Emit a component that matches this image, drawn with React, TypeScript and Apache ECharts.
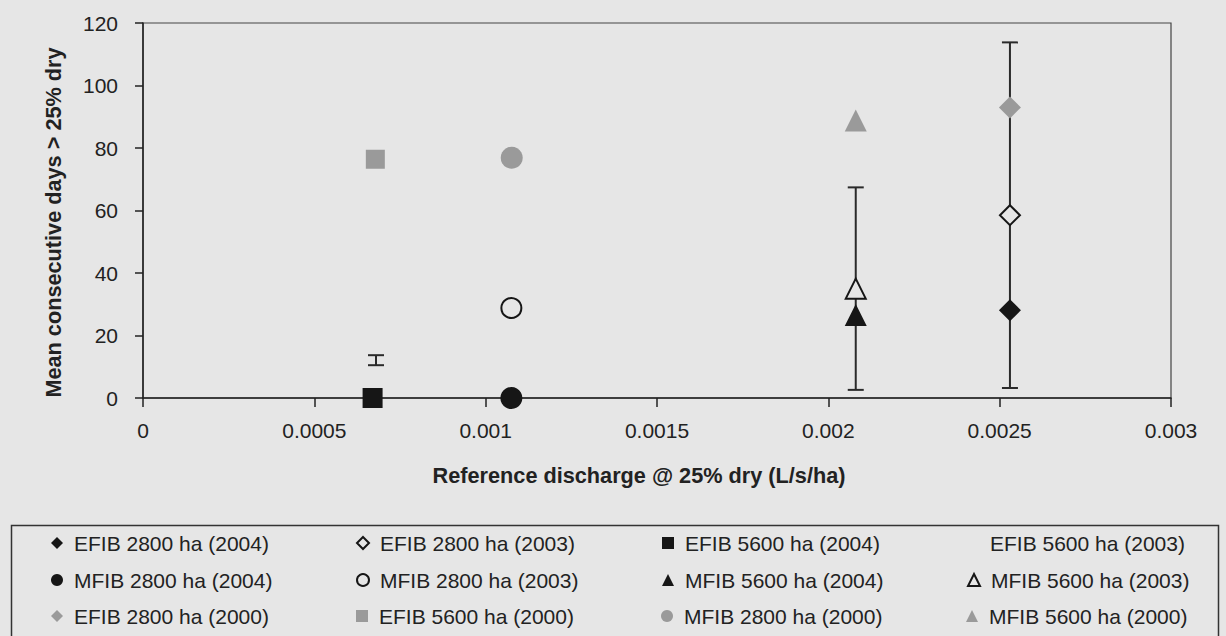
import React, { useEffect, useRef } from "react";
import * as echarts from "echarts";

// ---- data (x: L/s/ha, y: mean consecutive days) ----
const EFIB_2800_2004: [number, number][] = [[0.00253, 28.1]];
const EFIB_2800_2003: [number, number][] = [[0.00253, 58.5]];
const EFIB_5600_2004: [number, number][] = [[0.00067, 0]];
const EFIB_5600_2003: [number, number][] = [[0.00068, 12.1]];
const MFIB_2800_2004: [number, number][] = [[0.001075, 0]];
const MFIB_2800_2003: [number, number][] = [[0.001075, 28.8]];
const MFIB_5600_2004: [number, number][] = [[0.00208, 26.6]];
const MFIB_5600_2003: [number, number][] = [[0.00208, 35.0]];
const EFIB_2800_2000: [number, number][] = [[0.00253, 93.0]];
const EFIB_5600_2000: [number, number][] = [[0.000678, 76.4]];
const MFIB_2800_2000: [number, number][] = [[0.001076, 76.9]];
const MFIB_5600_2000: [number, number][] = [[0.00208, 88.8]];

// symmetric error bar half-widths for the 2003 series
const EFIB_2800_2003_ERR = [55.3];
const EFIB_5600_2003_ERR = [1.6];
const MFIB_5600_2003_ERR = [32.4];

const X_MIN = 0;
const X_MAX = 0.003;
const X_STEP = 0.0005;
const Y_MIN = 0;
const Y_MAX = 120;
const Y_STEP = 20;

const X_NAME = "Reference discharge @ 25% dry (L/s/ha)";
const Y_NAME = "Mean consecutive days > 25% dry";

const BG = "#e6e6e6";
const BLACK = "#161616";
const GREY = "#9a9a9a";
const FONT = "'Liberation Sans', Arial, Helvetica, sans-serif";

type S = {
  name: string;
  data: [number, number][];
  symbol: string;
  size: number;
  fill: string;
  border?: string;
};

const SERIES: S[] = [
  { name: "EFIB 2800 ha (2004)", data: EFIB_2800_2004, symbol: "diamond", size: 22, fill: BLACK },
  { name: "EFIB 2800 ha (2003)", data: EFIB_2800_2003, symbol: "diamond", size: 20, fill: BG, border: BLACK },
  { name: "EFIB 5600 ha (2004)", data: EFIB_5600_2004, symbol: "rect", size: 20, fill: BLACK },
  { name: "EFIB 5600 ha (2003)", data: EFIB_5600_2003, symbol: "none", size: 0, fill: BLACK },
  { name: "MFIB 2800 ha (2004)", data: MFIB_2800_2004, symbol: "circle", size: 22, fill: BLACK },
  { name: "MFIB 2800 ha (2003)", data: MFIB_2800_2003, symbol: "circle", size: 20, fill: BG, border: BLACK },
  { name: "MFIB 5600 ha (2004)", data: MFIB_5600_2004, symbol: "triangle", size: 22, fill: BLACK },
  { name: "MFIB 5600 ha (2003)", data: MFIB_5600_2003, symbol: "triangle", size: 20, fill: BG, border: BLACK },
  { name: "EFIB 2800 ha (2000)", data: EFIB_2800_2000, symbol: "diamond", size: 22, fill: GREY },
  { name: "EFIB 5600 ha (2000)", data: EFIB_5600_2000, symbol: "rect", size: 19, fill: GREY },
  { name: "MFIB 2800 ha (2000)", data: MFIB_2800_2000, symbol: "circle", size: 22, fill: GREY },
  { name: "MFIB 5600 ha (2000)", data: MFIB_5600_2000, symbol: "triangle", size: 22, fill: GREY },
];

const ERRORS: { data: [number, number][]; err: number[] }[] = [
  { data: EFIB_2800_2003, err: EFIB_2800_2003_ERR },
  { data: EFIB_5600_2003, err: EFIB_5600_2003_ERR },
  { data: MFIB_5600_2003, err: MFIB_5600_2003_ERR },
];

const LEGEND_ROWS_TOP = [531, 568, 604];

export default function App() {
  const ref = useRef<HTMLDivElement>(null);

  useEffect(() => {
    if (!ref.current) return;
    const chart = echarts.init(ref.current, undefined, { renderer: "svg" });

    const errorData: number[][] = [];
    ERRORS.forEach((e) =>
      e.data.forEach((p, i) => errorData.push([p[0], p[1] - e.err[i], p[1] + e.err[i]]))
    );

    const scatterSeries = SERIES.map((s) => ({
      type: "scatter",
      name: s.name,
      data: s.data,
      symbol: s.symbol,
      symbolSize: s.size,
      z: 3,
      itemStyle: {
        color: s.fill,
        borderColor: s.border || s.fill,
        borderWidth: s.border ? 2 : 0,
        opacity: 1,
      },
      emphasis: { disabled: true },
    }));

    const legends = [0, 1, 2].map((row) => ({
      show: true,
      orient: "horizontal",
      left: 51,
      top: LEGEND_ROWS_TOP[row],
      width: 1160,
      padding: 0,
      itemGap: 82,
      itemWidth: 12,
      itemHeight: 12,
      selectedMode: false,
      textStyle: {
        fontFamily: FONT,
        fontSize: 21,
        color: "#222",
        width: 200,
        lineHeight: 24,
        padding: [0, 0, 0, 6],
      },
      data: SERIES.slice(row * 4, row * 4 + 4).map((s) => ({
        name: s.name,
        icon: s.symbol,
      })),
    }));

    chart.setOption({
      animation: false,
      backgroundColor: BG,
      textStyle: { fontFamily: FONT },
      grid: {
        left: 143,
        right: 55,
        top: 23,
        bottom: 238,
        show: true,
        borderColor: "#444",
        borderWidth: 1.2,
        backgroundColor: "transparent",
      },
      legend: legends,
      graphic: [
        {
          type: "rect",
          left: 9,
          top: 523,
          shape: { width: 1207, height: 130 },
          style: { fill: "none", stroke: "#333", lineWidth: 1.5 },
          silent: true,
        },
      ],
      xAxis: {
        type: "value",
        min: X_MIN,
        max: X_MAX,
        interval: X_STEP,
        name: X_NAME,
        nameLocation: "middle",
        nameGap: 66,
        nameTextStyle: {
          fontFamily: FONT,
          fontSize: 21.7,
          fontWeight: "bold",
          color: "#222",
          padding: [0, 36, 0, 0],
        },
        axisLine: { show: true, onZero: false, lineStyle: { color: "#222", width: 1.5 } },
        axisTick: { show: true, inside: false, length: 9, lineStyle: { color: "#222", width: 1.5 } },
        axisLabel: {
          margin: 22,
          fontFamily: FONT,
          fontSize: 21,
          color: "#222",
          formatter: (v: number) => String(Number(v.toFixed(5))),
        },
        splitLine: { show: false },
      },
      yAxis: {
        type: "value",
        min: Y_MIN,
        max: Y_MAX,
        interval: Y_STEP,
        name: Y_NAME,
        nameLocation: "middle",
        nameGap: 79,
        nameTextStyle: {
          fontFamily: FONT,
          fontSize: 21.7,
          fontWeight: "bold",
          color: "#222",
          padding: [0, 24, 0, 0],
        },
        axisLine: { show: true, onZero: false, lineStyle: { color: "#222", width: 1.5 } },
        axisTick: { show: true, inside: false, length: 8, lineStyle: { color: "#222", width: 1.5 } },
        axisLabel: { margin: 25, fontFamily: FONT, fontSize: 21, color: "#222" },
        splitLine: { show: false },
      },
      series: [
        {
          type: "custom",
          name: "error bars",
          silent: true,
          z: 2,
          data: errorData,
          encode: { x: 0, y: [1, 2] },
          renderItem: (params: any, api: any) => {
            const x = api.value(0);
            const lo = api.coord([x, api.value(1)]);
            const hi = api.coord([x, api.value(2)]);
            const hw = 8;
            const style = { stroke: "#2a2a2a", lineWidth: 2 };
            return {
              type: "group",
              children: [
                { type: "line", shape: { x1: lo[0], y1: lo[1], x2: hi[0], y2: hi[1] }, style },
                { type: "line", shape: { x1: lo[0] - hw, y1: lo[1], x2: lo[0] + hw, y2: lo[1] }, style },
                { type: "line", shape: { x1: hi[0] - hw, y1: hi[1], x2: hi[0] + hw, y2: hi[1] }, style },
              ],
            };
          },
        },
        ...scatterSeries,
      ],
    } as any);

    return () => chart.dispose();
  }, []);

  return (
    <div
      ref={ref}
      style={{ position: "fixed", left: 0, top: 0, width: 1226, height: 636 }}
    />
  );
}
